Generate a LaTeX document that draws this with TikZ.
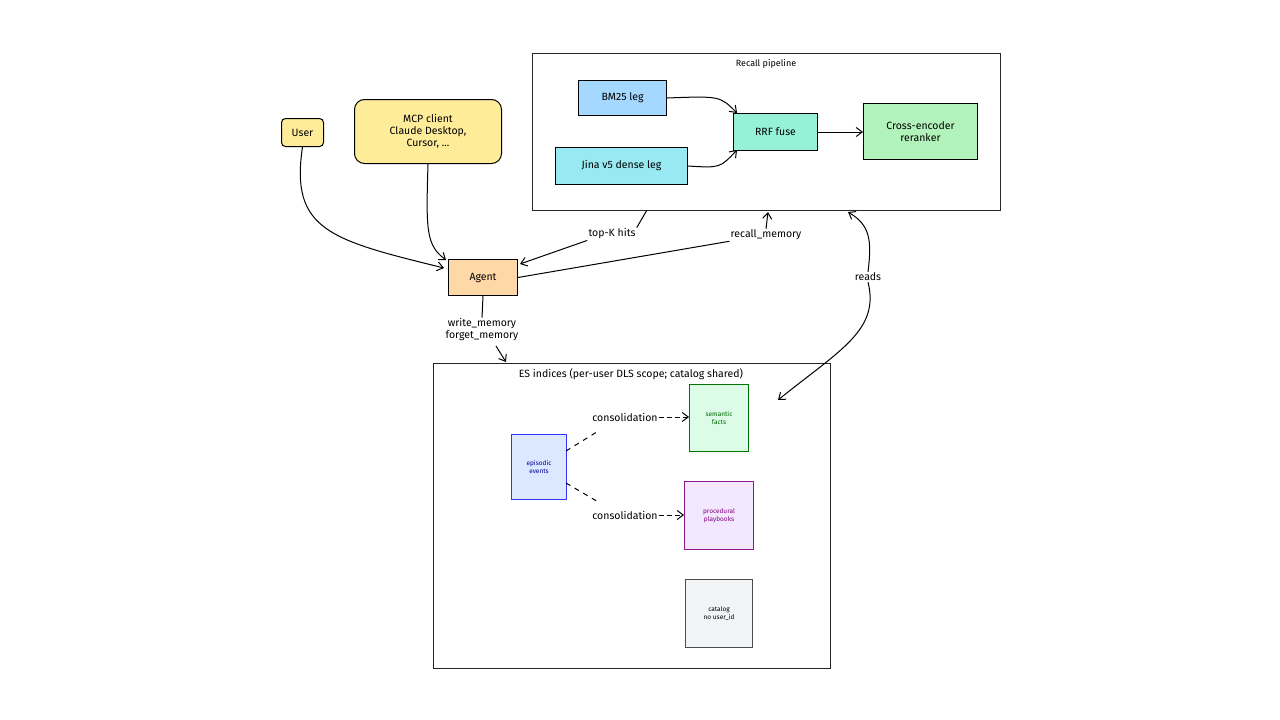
\documentclass[tikz,border=0pt]{standalone}
\usepackage{fontspec}
\setmainfont{Fira Sans}
\usetikzlibrary{arrows.meta}
\begin{document}
\begin{tikzpicture}[x=1pt,y=-1pt,
  box/.style={draw=#1!60!black,line width=1pt,inner sep=0pt,anchor=north west,align=center},
  lbl/.style={font=\fontsize{10.5}{12}\selectfont,fill=white,inner sep=1pt,align=center},
  sm/.style={font=\fontsize{6.5}{8}\selectfont},
  arr/.style={-{Straight Barb[length=6pt,width=9pt]},line width=1pt},
  ln/.style={line width=1pt},
  every node/.style={font=\fontsize{10.5}{12}\selectfont}]
\useasboundingbox (0,0) rectangle (1280,720);
\definecolor{bmc}{HTML}{A5D8FF}\definecolor{jic}{HTML}{99E9F2}
\definecolor{rrc}{HTML}{96F2D7}\definecolor{cec}{HTML}{B2F2BB}
\definecolor{yel}{HTML}{FFEC99}\definecolor{agc}{HTML}{FFD8A8}
\definecolor{smc}{HTML}{DCFCE7}\definecolor{epc}{HTML}{DBE8FF}
\definecolor{prc}{HTML}{F3E8FF}\definecolor{cac}{HTML}{F1F3F5}
% containers
\node[box=black,draw=black!85,minimum width=468pt,minimum height=157pt] (rp) at (532,53) {};
\node at (766,64) (rpt) {\fontsize{9}{10}\selectfont Recall pipeline};
\node[box=black,draw=black!85,minimum width=397pt,minimum height=305pt] (es) at (433,363) {};
\node at (631,374) (est) {ES indices (per-user DLS scope; catalog shared)};
% pipeline
\node[box=black,fill=bmc,minimum width=88pt,minimum height=35pt] (bm) at (578,80) {BM25 leg};
\node[box=black,fill=jic,minimum width=132pt,minimum height=37pt] (ji) at (555,147) {Jina v5 dense leg};
\node[box=black,fill=rrc,minimum width=84pt,minimum height=37pt] (rr) at (733,113) {RRF fuse};
\node[box=black,fill=cec,minimum width=114pt,minimum height=56pt] (ce) at (863,103) {Cross-encoder\\reranker};
\draw[arr] (bm.east) .. controls (720,96) .. (737,113);
\draw[arr] (ji.east) .. controls (720,168) .. (737,150);
\draw[arr] (rr.east) -- (ce.west|-rr.east);
% left
\node[box=black,fill=yel,rounded corners=4pt,minimum width=42pt,minimum height=28pt] (us) at (281,118) {User};
\node[box=black,fill=yel,rounded corners=10pt,minimum width=147pt,minimum height=64pt] (mcp) at (354,99) {MCP client\\Claude Desktop,\\Cursor, ...};
\node[box=black,fill=agc,minimum width=69pt,minimum height=36pt] (ag) at (448,259) {Agent};
\coordinate (agw) at (444,268);
\draw[arr] (us.south) .. controls (290,230) and (330,240) .. (agw);
\draw[arr] (mcp.south) .. controls (426,230) and (426,245) .. (446,260);
% top-K
\node[lbl] (tk) at (612,234) {top-K hits};
\draw[ln] (647,210) -- (tk.north east);
\draw[arr] (tk.south west) -- (520,264);
\node[lbl] (rm) at (766,235) {recall\_memory};
\draw[ln] (ag.east) -- (rm.south west);
\draw[arr] (rm.north) -- (768,212);
% reads
\node[lbl] (rd) at (868,277) {reads};
\draw[arr] (rd.north) .. controls (872,240) and (870,225) .. (848,212);
\draw[arr] (rd.south) .. controls (880,330) and (840,350) .. (778,400);
% write
\node[lbl] (wm) at (482,330) {write\_memory\\forget\_memory};
\draw[ln] (ag.south) -- (wm.north);
\draw[arr] (496,346) -- (506,362);
% memory boxes
\node[box=green!60!black,draw=green!45!black,fill=smc,minimum width=59pt,minimum height=67pt,sm,text=green!40!black] (se) at (689,384) {semantic\\facts};
\node[box=blue,draw=blue!80,fill=epc,minimum width=55pt,minimum height=65pt,sm,text=blue!60!black] (ep) at (511,434) {episodic\\events};
\node[box=violet,draw=violet!90,fill=prc,minimum width=69pt,minimum height=68pt,sm,text=violet] (pr) at (684,481) {procedural\\playbooks};
\node[box=black,draw=black!70,fill=cac,minimum width=67pt,minimum height=68pt,sm] (ca) at (685,579) {catalog\\no user\_id};
\node[lbl] (c1) at (625,417) {consolidation};
\node[lbl] (c2) at (625,515) {consolidation};
\draw[ln,dashed,dash pattern=on 5pt off 5pt] (566,451) -- (600,430);
\draw[arr,dashed,dash pattern=on 5pt off 3pt] (c1.east) -- (se.west|-c1.east);
\draw[ln,dashed,dash pattern=on 5pt off 5pt] (566,483) -- (600,503);
\draw[arr,dashed,dash pattern=on 5pt off 3pt] (c2.east) -- (pr.west|-c2.east);
\end{tikzpicture}
\end{document}
